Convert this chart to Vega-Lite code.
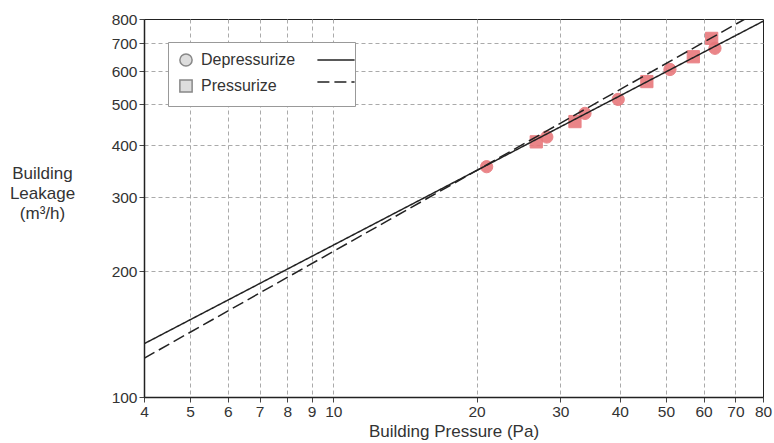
{
  "$schema": "https://vega.github.io/schema/vega-lite/v6.json",
  "width": 619,
  "height": 378,
  "autosize": {"type": "none"},
  "padding": {"left": 144, "top": 19, "right": 11, "bottom": 46},
  "background": "white",
  "config": {
    "font": "Liberation Sans",
    "view": {"stroke": "#222", "strokeWidth": 1}
  },
  "datasets": {
    "points": [
      {"pressure": 21.0, "leakage": 355, "series": "Depressurize"},
      {"pressure": 26.7, "leakage": 407, "series": "Pressurize"},
      {"pressure": 28.1, "leakage": 418, "series": "Depressurize"},
      {"pressure": 32.2, "leakage": 455, "series": "Pressurize"},
      {"pressure": 33.8, "leakage": 476, "series": "Depressurize"},
      {"pressure": 39.7, "leakage": 514, "series": "Depressurize"},
      {"pressure": 45.6, "leakage": 567, "series": "Pressurize"},
      {"pressure": 51.0, "leakage": 606, "series": "Depressurize"},
      {"pressure": 57.1, "leakage": 650, "series": "Pressurize"},
      {"pressure": 62.4, "leakage": 719, "series": "Pressurize"},
      {"pressure": 63.4, "leakage": 681, "series": "Depressurize"}
    ],
    "lines": [
      {"pressure": 4, "leakage": 134, "line": "Depressurize fit"},
      {"pressure": 80, "leakage": 790, "line": "Depressurize fit"},
      {"pressure": 4, "leakage": 123.7, "line": "Pressurize fit"},
      {"pressure": 73.3, "leakage": 800, "line": "Pressurize fit"}
    ]
  },
  "encoding": {
    "x": {
      "field": "pressure",
      "type": "quantitative",
      "scale": {"type": "log", "domain": [4, 80], "nice": false},
      "axis": {
        "title": "Building Pressure (Pa)",
        "values": [4, 5, 6, 7, 8, 9, 10, 20, 30, 40, 50, 60, 70, 80],
        "labelFontSize": 15.5,
        "labelColor": "#333",
        "labelFlush": false,
        "labelPadding": 2,
        "tickSize": 5,
        "tickColor": "#444",
        "domainColor": "#222",
        "domainWidth": 1.5,
        "grid": true,
        "gridColor": "#aaa",
        "gridDash": [4, 3],
        "gridOpacity": {"condition": {"test": "datum.value == 4 || datum.value == 80", "value": 0}, "value": 1},
        "titleFontSize": 17,
        "titleFontWeight": "normal",
        "titleColor": "#333",
        "titlePadding": 4
      }
    },
    "y": {
      "field": "leakage",
      "type": "quantitative",
      "scale": {"type": "log", "domain": [100, 800], "nice": false},
      "axis": {
        "title": ["Building", "Leakage", "(m³/h)"],
        "values": [100, 200, 300, 400, 500, 600, 700, 800],
        "labelFontSize": 15.5,
        "labelColor": "#333",
        "labelPadding": 2,
        "tickSize": 5,
        "tickColor": "#444",
        "domainColor": "#222",
        "domainWidth": 1.5,
        "grid": true,
        "gridColor": "#aaa",
        "gridDash": [4, 3],
        "gridOpacity": {"condition": {"test": "datum.value == 100 || datum.value == 800", "value": 0}, "value": 1},
        "titleFontSize": 17,
        "titleFontWeight": "normal",
        "titleColor": "#333",
        "titleAngle": 0,
        "titleAlign": "center",
        "titleBaseline": "top",
        "titleX": -102,
        "titleY": 146,
        "titleLineHeight": 20
      }
    }
  },
  "layer": [
    {
      "data": {"name": "points"},
      "mark": {"type": "point", "filled": true, "size": 150, "opacity": 0.9, "strokeWidth": 1},
      "encoding": {
        "color": {"condition": {"test": "true", "value": "#e8787c"}, "value": "#dddddd"},
        "stroke": {"condition": {"test": "true", "value": "#e8787c"}, "value": "#888888"},
        "shape": {
          "field": "series",
          "type": "nominal",
          "scale": {"domain": ["Depressurize", "Pressurize"], "range": ["circle", "square"]},
          "legend": {
            "title": null,
            "orient": "none",
            "legendX": 24,
            "legendY": 23,
            "padding": 10,
            "fillColor": "white",
            "strokeColor": "#999",
            "symbolSize": 150,
            "symbolOpacity": 1,
            "labelFontSize": 16,
            "labelColor": "#333",
            "labelOffset": 7,
            "rowPadding": 6,
            "labelExpr": "datum.label + '\u00a0\u00a0\u00a0\u00a0\u00a0\u00a0\u00a0\u00a0\u00a0\u00a0\u00a0\u200b'",
            "zindex": 1
          }
        }
      }
    },
    {
      "data": {"name": "lines"},
      "mark": {"type": "line", "color": "#222", "strokeWidth": 1.5, "clip": true},
      "encoding": {
        "strokeDash": {
          "field": "line",
          "type": "nominal",
          "scale": {"domain": ["Depressurize fit", "Pressurize fit"], "range": [[1, 0], [12, 5]]},
          "legend": {
            "title": null,
            "orient": "none",
            "legendX": 184,
            "legendY": 33,
            "padding": 0,
            "symbolType": "M-3.1,0L3.1,0",
            "symbolSize": 144,
            "symbolStrokeColor": "#222",
            "symbolStrokeWidth": 1.5,
            "labelFontSize": 16,
            "labelExpr": "''",
            "rowPadding": 6,
            "zindex": 2
          }
        }
      }
    }
  ]
}
